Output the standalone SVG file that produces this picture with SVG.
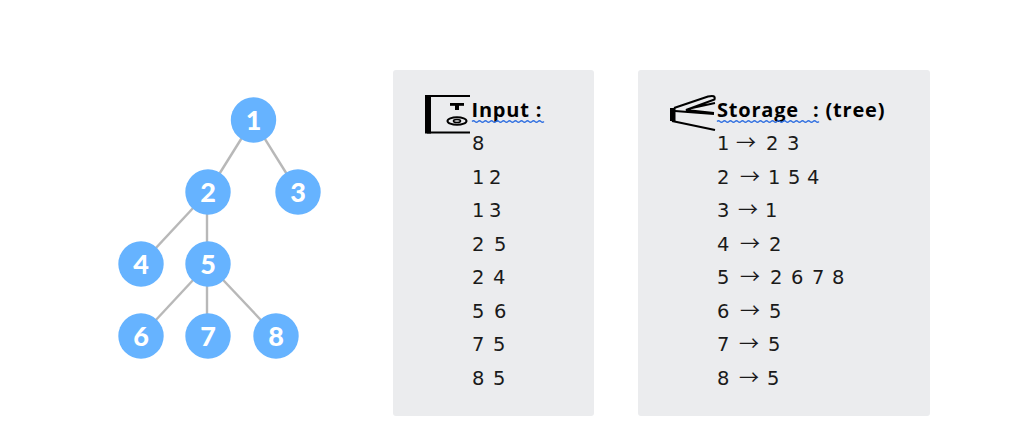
<svg xmlns="http://www.w3.org/2000/svg" width="1022" height="437" viewBox="0 0 1022 437">
<style>
.edge{stroke:#b8b8b8;stroke-width:2.4;fill:none}
.node{fill:#66b3ff}
.nl{font:900 27px Lato,"Liberation Sans",sans-serif;fill:#fff;text-anchor:middle}
.panel{fill:#ebecee}
.t{font:19.500px "DejaVu Sans","Liberation Sans",sans-serif;fill:#1a1a1a}
.a{font-family:"Noto Sans CJK SC","DejaVu Sans",sans-serif;font-size:20px}
.h{font:bold 20px "Open Sans","Liberation Sans",sans-serif;fill:#000;letter-spacing:.8px}
.wave{stroke:#2f6fe0;stroke-width:1.2;fill:none}
.ic{fill:none;stroke:#000}
</style>
<rect width="1022" height="437" fill="#fff"/>
<g id="connectors">
<line class="edge" x1="253" y1="120" x2="208" y2="192"/>
<line class="edge" x1="253" y1="120" x2="298" y2="192"/>
<line class="edge" x1="208" y1="192" x2="141" y2="264"/>
<line class="edge" x1="207" y1="192" x2="207" y2="264"/>
<line class="edge" x1="208" y1="264" x2="141" y2="336"/>
<line class="edge" x1="207" y1="264" x2="207" y2="336"/>
<line class="edge" x1="208" y1="264" x2="276" y2="336"/>
</g>
<g id="node-1"><circle class="node" cx="253.500" cy="120" r="22.700"/><text class="nl" x="253.500" y="130">1</text></g>
<g id="node-2"><circle class="node" cx="208" cy="192" r="22.700"/><text class="nl" x="208" y="202">2</text></g>
<g id="node-3"><circle class="node" cx="298" cy="192" r="22.700"/><text class="nl" x="298" y="202">3</text></g>
<g id="node-4"><circle class="node" cx="141" cy="264" r="22.700"/><text class="nl" x="141" y="274">4</text></g>
<g id="node-5"><circle class="node" cx="208" cy="264" r="22.700"/><text class="nl" x="208" y="274">5</text></g>
<g id="node-6"><circle class="node" cx="141" cy="336" r="22.700"/><text class="nl" x="141" y="346">6</text></g>
<g id="node-7"><circle class="node" cx="208" cy="336" r="22.700"/><text class="nl" x="208" y="346">7</text></g>
<g id="node-8"><circle class="node" cx="276" cy="336" r="22.700"/><text class="nl" x="276" y="346">8</text></g>
<g id="input-panel">
<rect class="panel" x="393" y="70" width="201" height="346" rx="3"/>
<path d="M470 96H428V132.500H470" class="ic" stroke-width="2.200"/>
<rect x="425" y="95" width="6" height="38.500"/>
<rect x="450" y="103" width="14" height="2.800"/>
<rect x="455" y="105" width="4" height="5"/>
<ellipse cx="457" cy="121" rx="9.500" ry="3.800" class="ic" stroke-width="2"/>
<ellipse cx="457" cy="121" rx="3.500" ry="1.500" class="ic" stroke-width="1.600"/>
<text class="h" x="471.500" y="117">Input :</text>
<path class="wave" d="M472 121.500q1.500-1.500 3 0t3 0 3 0 3 0 3 0 3 0 3 0 3 0 3 0 3 0 3 0 3 0 3 0 3 0 3 0 3 0 3 0 3 0 3 0 3 0 3 0 3 0 3 0 3 0"/>
<text class="t" x="472" y="150">8</text>
<text class="t" y="184"><tspan x="472">1</tspan> <tspan x="489">2</tspan></text>
<text class="t" y="217"><tspan x="472">1</tspan> <tspan x="489">3</tspan></text>
<text class="t" y="251"><tspan x="472">2</tspan> <tspan x="494">5</tspan></text>
<text class="t" y="284"><tspan x="472">2</tspan> <tspan x="493">4</tspan></text>
<text class="t" y="318"><tspan x="472">5</tspan> <tspan x="494">6</tspan></text>
<text class="t" y="351"><tspan x="472">7</tspan> <tspan x="493">5</tspan></text>
<text class="t" y="385"><tspan x="472">8</tspan> <tspan x="493">5</tspan></text>
</g>
<g id="storage-panel">
<rect class="panel" x="638" y="70" width="292" height="346" rx="3"/>
<path d="M672 121L715 130" class="ic" stroke-width="2.200"/>
<path d="M674 108L708 96.500Q716 94.500 714.500 99.500L686 110L714 113M692 108L715 103M675 111L714 114" class="ic" stroke-width="2"/>
<rect x="670" y="108" width="5.500" height="13"/>
<text class="h" x="717" y="117">Storage</text>
<text class="h" x="813" y="117">: (tree)</text>
<path class="wave" d="M717 121.500q1.500-1.500 3 0t3 0 3 0 3 0 3 0 3 0 3 0 3 0 3 0 3 0 3 0 3 0 3 0 3 0 3 0 3 0 3 0 3 0 3 0 3 0 3 0 3 0 3 0 3 0 3 0 3 0 3 0 3 0 3 0 3 0 3 0 3 0 3 0 3 0"/>
<text class="t" y="150"><tspan x="717">1</tspan> <tspan class="a" x="736">→</tspan> <tspan x="766">2</tspan> <tspan x="787">3</tspan></text>
<text class="t" y="184"><tspan x="717">2</tspan> <tspan class="a" x="740">→</tspan> <tspan x="768">1</tspan> <tspan x="788">5</tspan> <tspan x="807">4</tspan></text>
<text class="t" y="217"><tspan x="717">3</tspan> <tspan class="a" x="738">→</tspan> <tspan x="765">1</tspan></text>
<text class="t" y="251"><tspan x="717">4</tspan> <tspan class="a" x="740">→</tspan> <tspan x="769">2</tspan></text>
<text class="t" y="284"><tspan x="717">5</tspan> <tspan class="a" x="740">→</tspan> <tspan x="770">2</tspan> <tspan x="791">6</tspan> <tspan x="812">7</tspan> <tspan x="832">8</tspan></text>
<text class="t" y="318"><tspan x="717">6</tspan> <tspan class="a" x="740">→</tspan> <tspan x="769">5</tspan></text>
<text class="t" y="351"><tspan x="717">7</tspan> <tspan class="a" x="739">→</tspan> <tspan x="768">5</tspan></text>
<text class="t" y="385"><tspan x="717">8</tspan> <tspan class="a" x="739">→</tspan> <tspan x="767">5</tspan></text>
</g>
</svg>
